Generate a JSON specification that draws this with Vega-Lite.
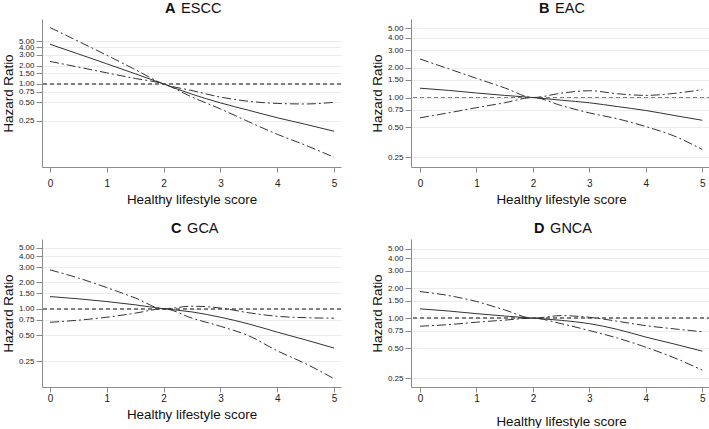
{
  "$schema": "https://vega.github.io/schema/vega-lite/v6.json",
  "padding": {"left": 1, "top": 0, "right": 0, "bottom": 0},
  "background": "white",
  "config": {
    "font": "Liberation Sans",
    "view": {"stroke": null},
    "axis": {"domainColor": "#8c8c8c", "tickColor": "#8c8c8c", "labelColor": "#222222", "titleColor": "#111111", "titleFontWeight": "normal", "labelFont": "Liberation Sans", "titleFont": "Liberation Sans", "labelOverlap": false},
    "axisX": {"grid": false, "tickSize": 5, "labelFontSize": 10, "labelPadding": 6, "titleFontSize": 13.4, "titlePadding": 4, "labelFlush": false},
    "axisY": {"grid": true, "gridColor": "#ececec", "tickSize": 6, "labelFontSize": 8, "labelPadding": 2, "titleFontSize": 13.4, "titlePadding": 3},
    "title": {"font": "Liberation Sans", "subtitleFont": "Liberation Sans", "fontSize": 14.5, "fontWeight": "bold", "subtitleFontSize": 14.5, "subtitleFontWeight": "normal", "subtitlePadding": -14.5, "color": "#111111", "subtitleColor": "#111111", "anchor": "start", "frame": "group", "offset": 3}
  },
  "datasets": {
    "A": [
      {"score": 0, "series": "est", "hr": 4.47}, {"score": 0.5, "series": "est", "hr": 3.1}, {"score": 1, "series": "est", "hr": 2.14}, {"score": 1.5, "series": "est", "hr": 1.47}, {"score": 2, "series": "est", "hr": 1}, {"score": 2.5, "series": "est", "hr": 0.68}, {"score": 3, "series": "est", "hr": 0.49}, {"score": 3.5, "series": "est", "hr": 0.37}, {"score": 4, "series": "est", "hr": 0.28}, {"score": 4.5, "series": "est", "hr": 0.218}, {"score": 5, "series": "est", "hr": 0.168},
      {"score": 0, "series": "upper", "hr": 8.4}, {"score": 0.5, "series": "upper", "hr": 5.0}, {"score": 1, "series": "upper", "hr": 2.95}, {"score": 1.5, "series": "upper", "hr": 1.72}, {"score": 2, "series": "upper", "hr": 1}, {"score": 2.5, "series": "upper", "hr": 0.78}, {"score": 3, "series": "upper", "hr": 0.61}, {"score": 3.5, "series": "upper", "hr": 0.52}, {"score": 4, "series": "upper", "hr": 0.48}, {"score": 4.5, "series": "upper", "hr": 0.47}, {"score": 5, "series": "upper", "hr": 0.5},
      {"score": 0, "series": "lower", "hr": 2.34}, {"score": 0.5, "series": "lower", "hr": 1.89}, {"score": 1, "series": "lower", "hr": 1.52}, {"score": 1.5, "series": "lower", "hr": 1.23}, {"score": 2, "series": "lower", "hr": 1}, {"score": 2.5, "series": "lower", "hr": 0.61}, {"score": 3, "series": "lower", "hr": 0.39}, {"score": 3.5, "series": "lower", "hr": 0.24}, {"score": 4, "series": "lower", "hr": 0.15}, {"score": 4.5, "series": "lower", "hr": 0.099}, {"score": 5, "series": "lower", "hr": 0.063}
    ],
    "B": [
      {"score": 0, "series": "est", "hr": 1.24}, {"score": 0.5, "series": "est", "hr": 1.18}, {"score": 1, "series": "est", "hr": 1.11}, {"score": 1.5, "series": "est", "hr": 1.05}, {"score": 2, "series": "est", "hr": 1}, {"score": 2.5, "series": "est", "hr": 0.94}, {"score": 3, "series": "est", "hr": 0.885}, {"score": 3.5, "series": "est", "hr": 0.81}, {"score": 4, "series": "est", "hr": 0.74}, {"score": 4.5, "series": "est", "hr": 0.66}, {"score": 5, "series": "est", "hr": 0.59},
      {"score": 0, "series": "upper", "hr": 2.44}, {"score": 0.5, "series": "upper", "hr": 1.95}, {"score": 1, "series": "upper", "hr": 1.56}, {"score": 1.5, "series": "upper", "hr": 1.25}, {"score": 2, "series": "upper", "hr": 1}, {"score": 2.5, "series": "upper", "hr": 1.105}, {"score": 3, "series": "upper", "hr": 1.17}, {"score": 3.5, "series": "upper", "hr": 1.09}, {"score": 4, "series": "upper", "hr": 1.05}, {"score": 4.5, "series": "upper", "hr": 1.1}, {"score": 5, "series": "upper", "hr": 1.2},
      {"score": 0, "series": "lower", "hr": 0.625}, {"score": 0.5, "series": "lower", "hr": 0.7}, {"score": 1, "series": "lower", "hr": 0.79}, {"score": 1.5, "series": "lower", "hr": 0.885}, {"score": 2, "series": "lower", "hr": 1}, {"score": 2.5, "series": "lower", "hr": 0.83}, {"score": 3, "series": "lower", "hr": 0.7}, {"score": 3.5, "series": "lower", "hr": 0.61}, {"score": 4, "series": "lower", "hr": 0.51}, {"score": 4.5, "series": "lower", "hr": 0.41}, {"score": 5, "series": "lower", "hr": 0.3}
    ],
    "C": [
      {"score": 0, "series": "est", "hr": 1.38}, {"score": 0.5, "series": "est", "hr": 1.3}, {"score": 1, "series": "est", "hr": 1.21}, {"score": 1.5, "series": "est", "hr": 1.11}, {"score": 2, "series": "est", "hr": 1}, {"score": 2.5, "series": "est", "hr": 0.92}, {"score": 3, "series": "est", "hr": 0.8}, {"score": 3.5, "series": "est", "hr": 0.67}, {"score": 4, "series": "est", "hr": 0.54}, {"score": 4.5, "series": "est", "hr": 0.44}, {"score": 5, "series": "est", "hr": 0.355},
      {"score": 0, "series": "upper", "hr": 2.79}, {"score": 0.5, "series": "upper", "hr": 2.25}, {"score": 1, "series": "upper", "hr": 1.75}, {"score": 1.5, "series": "upper", "hr": 1.33}, {"score": 2, "series": "upper", "hr": 1}, {"score": 2.5, "series": "upper", "hr": 1.07}, {"score": 3, "series": "upper", "hr": 1.02}, {"score": 3.5, "series": "upper", "hr": 0.9}, {"score": 4, "series": "upper", "hr": 0.82}, {"score": 4.5, "series": "upper", "hr": 0.79}, {"score": 5, "series": "upper", "hr": 0.78},
      {"score": 0, "series": "lower", "hr": 0.7}, {"score": 0.5, "series": "lower", "hr": 0.74}, {"score": 1, "series": "lower", "hr": 0.8}, {"score": 1.5, "series": "lower", "hr": 0.89}, {"score": 2, "series": "lower", "hr": 1}, {"score": 2.5, "series": "lower", "hr": 0.78}, {"score": 3, "series": "lower", "hr": 0.63}, {"score": 3.5, "series": "lower", "hr": 0.49}, {"score": 4, "series": "lower", "hr": 0.33}, {"score": 4.5, "series": "lower", "hr": 0.235}, {"score": 5, "series": "lower", "hr": 0.158}
    ],
    "D": [
      {"score": 0, "series": "est", "hr": 1.24}, {"score": 0.5, "series": "est", "hr": 1.18}, {"score": 1, "series": "est", "hr": 1.11}, {"score": 1.5, "series": "est", "hr": 1.05}, {"score": 2, "series": "est", "hr": 1}, {"score": 2.5, "series": "est", "hr": 0.95}, {"score": 3, "series": "est", "hr": 0.88}, {"score": 3.5, "series": "est", "hr": 0.77}, {"score": 4, "series": "est", "hr": 0.645}, {"score": 4.5, "series": "est", "hr": 0.55}, {"score": 5, "series": "est", "hr": 0.466},
      {"score": 0, "series": "upper", "hr": 1.85}, {"score": 0.5, "series": "upper", "hr": 1.69}, {"score": 1, "series": "upper", "hr": 1.47}, {"score": 1.5, "series": "upper", "hr": 1.21}, {"score": 2, "series": "upper", "hr": 1}, {"score": 2.5, "series": "upper", "hr": 1.06}, {"score": 3, "series": "upper", "hr": 1.02}, {"score": 3.5, "series": "upper", "hr": 0.93}, {"score": 4, "series": "upper", "hr": 0.84}, {"score": 4.5, "series": "upper", "hr": 0.78}, {"score": 5, "series": "upper", "hr": 0.73},
      {"score": 0, "series": "lower", "hr": 0.83}, {"score": 0.5, "series": "lower", "hr": 0.86}, {"score": 1, "series": "lower", "hr": 0.91}, {"score": 1.5, "series": "lower", "hr": 0.955}, {"score": 2, "series": "lower", "hr": 1}, {"score": 2.5, "series": "lower", "hr": 0.88}, {"score": 3, "series": "lower", "hr": 0.75}, {"score": 3.5, "series": "lower", "hr": 0.63}, {"score": 4, "series": "lower", "hr": 0.51}, {"score": 4.5, "series": "lower", "hr": 0.4}, {"score": 5, "series": "lower", "hr": 0.3}
    ]
  },
  "spacing": 14,
  "vconcat": [
    {
      "spacing": 28,
      "hconcat": [
        {
          "width": 299, "height": 148,
          "title": {"text": "A", "subtitle": "\u200b\u00a0\u00a0\u00a0\u00a0ESCC", "dx": 123},
          "data": {"name": "A"},
          "layer": [
            {"mark": {"type": "rule", "strokeDash": [4, 3], "color": "#808080", "strokeWidth": 1},
             "encoding": {"y": {"datum": 1, "type": "quantitative", "scale": {"type": "log", "domain": [0.0436, 11.6], "nice": false}, "axis": {"values": [0.25, 0.5, 0.75, 1, 1.5, 2, 3, 4, 5], "format": ".2f", "title": "Hazard Ratio"}}}},
            {"transform": [{"filter": "datum.series == 'est'"}],
             "mark": {"type": "line", "interpolate": "monotone", "color": "#333333", "strokeWidth": 1},
             "encoding": {
               "x": {"field": "score", "type": "quantitative", "scale": {"domain": [-0.141, 5.123], "nice": false, "zero": false}, "axis": {"values": [0, 1, 2, 3, 4, 5], "format": "d", "title": "Healthy lifestyle score"}},
               "y": {"field": "hr", "type": "quantitative", "scale": {"type": "log", "domain": [0.0436, 11.6], "nice": false}, "axis": {"values": [0.25, 0.5, 0.75, 1, 1.5, 2, 3, 4, 5], "format": ".2f", "title": "Hazard Ratio"}}}},
            {"transform": [{"filter": "datum.series != 'est'"}],
             "mark": {"type": "line", "interpolate": "monotone", "color": "#333333", "strokeWidth": 1, "strokeDash": [9, 3, 2, 3]},
             "encoding": {
               "x": {"field": "score", "type": "quantitative", "scale": {"domain": [-0.141, 5.123], "nice": false, "zero": false}, "axis": {"values": [0, 1, 2, 3, 4, 5], "format": "d", "title": "Healthy lifestyle score"}},
               "y": {"field": "hr", "type": "quantitative", "scale": {"type": "log", "domain": [0.0436, 11.6], "nice": false}, "axis": {"values": [0.25, 0.5, 0.75, 1, 1.5, 2, 3, 4, 5], "format": ".2f", "title": "Hazard Ratio"}},
               "detail": {"field": "series"}}}
          ]
        },
        {
          "width": 300, "height": 148,
          "title": {"text": "B", "subtitle": "\u200b\u00a0\u00a0\u00a0\u00a0EAC", "dx": 128},
          "data": {"name": "B"},
          "layer": [
            {"mark": {"type": "rule", "strokeDash": [4, 3], "color": "#808080", "strokeWidth": 1},
             "encoding": {"y": {"datum": 1, "type": "quantitative", "scale": {"type": "log", "domain": [0.2, 6.16], "nice": false}, "axis": {"values": [0.25, 0.5, 0.75, 1, 1.5, 2, 3, 4, 5], "format": ".2f", "title": "Hazard Ratio"}}}},
            {"transform": [{"filter": "datum.series == 'est'"}],
             "mark": {"type": "line", "interpolate": "monotone", "color": "#333333", "strokeWidth": 1},
             "encoding": {
               "x": {"field": "score", "type": "quantitative", "scale": {"domain": [-0.16, 5.154], "nice": false, "zero": false}, "axis": {"values": [0, 1, 2, 3, 4, 5], "format": "d", "title": "Healthy lifestyle score"}},
               "y": {"field": "hr", "type": "quantitative", "scale": {"type": "log", "domain": [0.2, 6.16], "nice": false}, "axis": {"values": [0.25, 0.5, 0.75, 1, 1.5, 2, 3, 4, 5], "format": ".2f", "title": "Hazard Ratio"}}}},
            {"transform": [{"filter": "datum.series != 'est'"}],
             "mark": {"type": "line", "interpolate": "monotone", "color": "#333333", "strokeWidth": 1, "strokeDash": [9, 3, 2, 3]},
             "encoding": {
               "x": {"field": "score", "type": "quantitative", "scale": {"domain": [-0.16, 5.154], "nice": false, "zero": false}, "axis": {"values": [0, 1, 2, 3, 4, 5], "format": "d", "title": "Healthy lifestyle score"}},
               "y": {"field": "hr", "type": "quantitative", "scale": {"type": "log", "domain": [0.2, 6.16], "nice": false}, "axis": {"values": [0.25, 0.5, 0.75, 1, 1.5, 2, 3, 4, 5], "format": ".2f", "title": "Hazard Ratio"}},
               "detail": {"field": "series"}}}
          ]
        }
      ]
    },
    {
      "spacing": 28,
      "hconcat": [
        {
          "width": 299, "height": 148,
          "title": {"text": "C", "subtitle": "\u200b\u00a0\u00a0\u00a0\u00a0GCA", "dx": 129},
          "data": {"name": "C"},
          "layer": [
            {"mark": {"type": "rule", "strokeDash": [4, 3], "color": "#808080", "strokeWidth": 1},
             "encoding": {"y": {"datum": 1, "type": "quantitative", "scale": {"type": "log", "domain": [0.127, 6.3], "nice": false}, "axis": {"values": [0.25, 0.5, 0.75, 1, 1.5, 2, 3, 4, 5], "format": ".2f", "title": "Hazard Ratio"}}}},
            {"transform": [{"filter": "datum.series == 'est'"}],
             "mark": {"type": "line", "interpolate": "monotone", "color": "#333333", "strokeWidth": 1},
             "encoding": {
               "x": {"field": "score", "type": "quantitative", "scale": {"domain": [-0.141, 5.123], "nice": false, "zero": false}, "axis": {"values": [0, 1, 2, 3, 4, 5], "format": "d", "title": "Healthy lifestyle score", "labelPadding": 1}},
               "y": {"field": "hr", "type": "quantitative", "scale": {"type": "log", "domain": [0.127, 6.3], "nice": false}, "axis": {"values": [0.25, 0.5, 0.75, 1, 1.5, 2, 3, 4, 5], "format": ".2f", "title": "Hazard Ratio"}}}},
            {"transform": [{"filter": "datum.series != 'est'"}],
             "mark": {"type": "line", "interpolate": "monotone", "color": "#333333", "strokeWidth": 1, "strokeDash": [9, 3, 2, 3]},
             "encoding": {
               "x": {"field": "score", "type": "quantitative", "scale": {"domain": [-0.141, 5.123], "nice": false, "zero": false}, "axis": {"values": [0, 1, 2, 3, 4, 5], "format": "d", "title": "Healthy lifestyle score", "labelPadding": 1}},
               "y": {"field": "hr", "type": "quantitative", "scale": {"type": "log", "domain": [0.127, 6.3], "nice": false}, "axis": {"values": [0.25, 0.5, 0.75, 1, 1.5, 2, 3, 4, 5], "format": ".2f", "title": "Hazard Ratio"}},
               "detail": {"field": "series"}}}
          ]
        },
        {
          "width": 300, "height": 148,
          "title": {"text": "D", "subtitle": "\u200b\u00a0\u00a0\u00a0\u00a0GNCA", "dx": 123},
          "data": {"name": "D"},
          "layer": [
            {"mark": {"type": "rule", "strokeDash": [4, 3], "color": "#808080", "strokeWidth": 1},
             "encoding": {"y": {"datum": 1, "type": "quantitative", "scale": {"type": "log", "domain": [0.203, 6.25], "nice": false}, "axis": {"values": [0.25, 0.5, 0.75, 1, 1.5, 2, 3, 4, 5], "format": ".2f", "title": "Hazard Ratio"}}}},
            {"transform": [{"filter": "datum.series == 'est'"}],
             "mark": {"type": "line", "interpolate": "monotone", "color": "#333333", "strokeWidth": 1},
             "encoding": {
               "x": {"field": "score", "type": "quantitative", "scale": {"domain": [-0.16, 5.154], "nice": false, "zero": false}, "axis": {"values": [0, 1, 2, 3, 4, 5], "format": "d", "title": "Healthy lifestyle score", "labelPadding": 1, "titlePadding": 11}},
               "y": {"field": "hr", "type": "quantitative", "scale": {"type": "log", "domain": [0.203, 6.25], "nice": false}, "axis": {"values": [0.25, 0.5, 0.75, 1, 1.5, 2, 3, 4, 5], "format": ".2f", "title": "Hazard Ratio"}}}},
            {"transform": [{"filter": "datum.series != 'est'"}],
             "mark": {"type": "line", "interpolate": "monotone", "color": "#333333", "strokeWidth": 1, "strokeDash": [9, 3, 2, 3]},
             "encoding": {
               "x": {"field": "score", "type": "quantitative", "scale": {"domain": [-0.16, 5.154], "nice": false, "zero": false}, "axis": {"values": [0, 1, 2, 3, 4, 5], "format": "d", "title": "Healthy lifestyle score", "labelPadding": 1, "titlePadding": 11}},
               "y": {"field": "hr", "type": "quantitative", "scale": {"type": "log", "domain": [0.203, 6.25], "nice": false}, "axis": {"values": [0.25, 0.5, 0.75, 1, 1.5, 2, 3, 4, 5], "format": ".2f", "title": "Hazard Ratio"}},
               "detail": {"field": "series"}}}
          ]
        }
      ]
    }
  ]
}
